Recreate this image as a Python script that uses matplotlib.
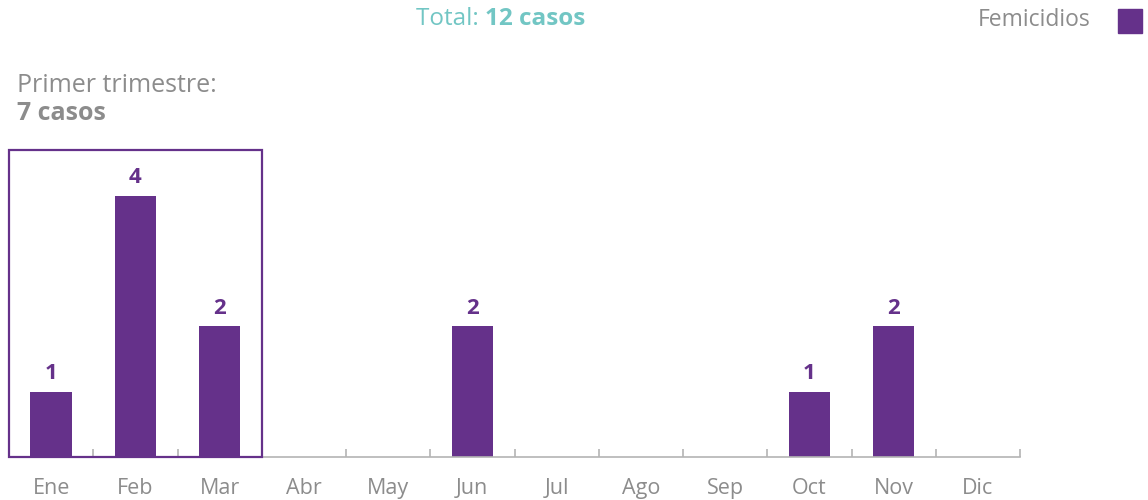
import matplotlib.pyplot as plt
import matplotlib.patches as mpatches
import numpy as np

plt.rcParams['font.family'] = ['Open Sans', 'DejaVu Sans']

# Data
meses = ['Ene', 'Feb', 'Mar', 'Abr', 'May', 'Jun', 'Jul', 'Ago', 'Sep', 'Oct', 'Nov', 'Dic']
femicidios = [1, 4, 2, 0, 0, 2, 0, 0, 0, 1, 2, 0]
total = sum(femicidios)
trimestre = sum(femicidios[:3])

purple = '#65318a'
teal = '#72c6c4'
grey = '#8c8c8c'
axis_grey = '#b4b4b4'

fig = plt.figure(figsize=(11.48, 5.0), dpi=100)
ax = fig.add_axes([9 / 1148, 43 / 500, 1011 / 1148, 457 / 500])

x = np.arange(len(meses))
ax.bar(x, femicidios, width=0.49, color=purple, zorder=2)

for xi, v in zip(x, femicidios):
    if v > 0:
        ax.text(xi, v + 0.12, str(v), ha='center', va='bottom', fontsize=16,
                fontweight='bold', color=purple)

# First-quarter box
box = mpatches.Rectangle((-0.5, 0), 3, 4.7, fill=False, edgecolor=purple,
                         linewidth=1.6, zorder=3, clip_on=False)
ax.add_patch(box)

ax.set_xlim(-0.5, 11.5)
ax.set_ylim(0, 7.0)
for side in ['top', 'right', 'left']:
    ax.spines[side].set_visible(False)
ax.spines['bottom'].set_color(axis_grey)
ax.spines['bottom'].set_linewidth(1.2)
ax.set_yticks([])
ax.set_xticks(x)
ax.set_xticklabels(meses, fontsize=15.5, color=grey)
ax.tick_params(axis='x', which='major', length=0, pad=15)
ax.set_xticks(np.arange(-0.5, 12, 1), minor=True)
ax.tick_params(axis='x', which='minor', direction='in', length=6,
               width=1.2, color=axis_grey)

# Header texts
fig.text(485 / 1148, 1 - 19 / 500, 'Total: ', ha='right', va='center',
         fontsize=17.5, color=teal)
fig.text(485 / 1148, 1 - 19 / 500, f'{total} casos', ha='left', va='center',
         fontsize=17.5, color=teal, fontweight='bold')

fig.text(17 / 1148, 1 - 86 / 500, 'Primer trimestre:', ha='left', va='center',
         fontsize=18, color=grey)
fig.text(17 / 1148, 1 - 114 / 500, f'{trimestre} casos', ha='left', va='center',
         fontsize=18, color=grey, fontweight='bold')

# Legend
fig.text(1090 / 1148, 1 - 20 / 500, 'Femicidios', ha='right', va='center',
         fontsize=16.5, color=grey)
fig.patches.append(mpatches.Rectangle((1118 / 1148, 1 - 33 / 500), 24 / 1148, 24 / 500,
                                      transform=fig.transFigure, color=purple,
                                      figure=fig))

fig.savefig('out.png', dpi=100)
